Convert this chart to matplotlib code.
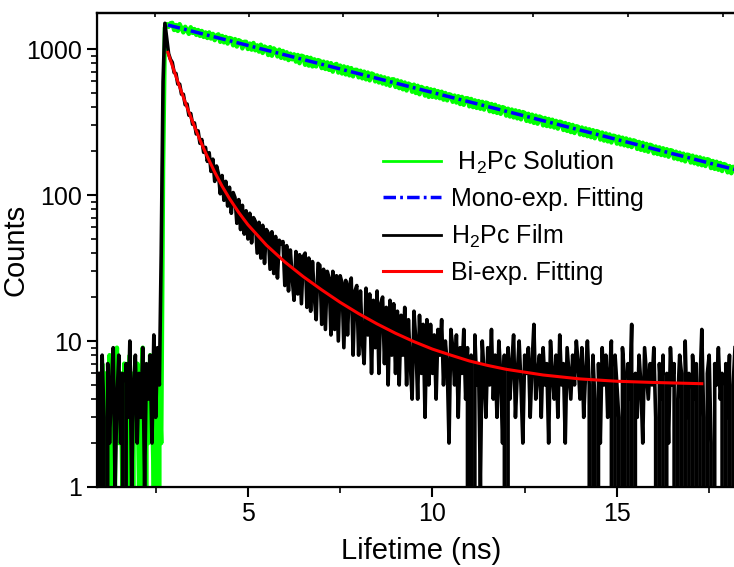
import numpy as np
import matplotlib.pyplot as plt

plt.rcParams['font.family'] = ['Liberation Sans', 'DejaVu Sans']
plt.rcParams['mathtext.default'] = 'regular'

# ---------------- data ----------------
# channel times: 0.95 ns .. 18.20 ns, 0.05 ns per channel
t_first = 0.95
t_step = 0.05

# H2Pc solution (green)
solution_counts = [
    5, 0, 7, 2, 6, 1, 8, 3, 0, 5, 9, 2, 6, 1, 7, 4, 2, 8, 0, 6,
    3, 7, 1, 5, 9, 0, 6, 2, 8, 4, 1, 7, 0, 5, 2, 150, 1400, 1480, 1420, 1500,
    1510, 1350, 1460, 1330, 1480, 1390, 1300, 1420, 1350, 1270, 1410, 1290, 1370, 1250, 1350, 1230, 1330, 1210, 1300, 1190,
    1300, 1180, 1270, 1150, 1240, 1260, 1120, 1230, 1110, 1210, 1090, 1190, 1180, 1060, 1170, 1040, 1150, 1130, 1010, 1120,
    1120, 1000, 1090, 990, 1100, 980, 1060, 960, 1070, 940, 1040, 1020, 910, 1030, 900, 1010, 980, 890, 990, 870,
    970, 860, 950, 840, 930, 850, 920, 820, 910, 800, 900, 890, 780, 880, 770, 870, 760, 850, 760, 840,
    830, 740, 820, 730, 810, 720, 800, 700, 780, 790, 690, 770, 680, 760, 670, 750, 660, 740, 650, 720,
    720, 640, 710, 630, 700, 620, 690, 610, 680, 670, 600, 660, 590, 650, 580, 640, 570, 630, 560, 620,
    620, 550, 610, 540, 600, 530, 590, 520, 580, 570, 510, 570, 500, 560, 490, 550, 540, 480, 540, 470,
    530, 470, 525, 465, 515, 460, 510, 450, 500, 445, 490, 485, 435, 480, 430, 475, 420, 470, 415, 460,
    460, 405, 455, 400, 445, 395, 440, 390, 435, 385, 430, 425, 375, 420, 370, 415, 365, 405, 360, 400,
    395, 350, 390, 345, 385, 340, 380, 335, 375, 330, 370, 365, 322, 360, 318, 355, 312, 350, 308, 345,
    340, 300, 337, 297, 332, 294, 328, 290, 322, 285, 318, 315, 279, 311, 275, 306, 270, 302, 266, 296,
    293, 260, 290, 257, 286, 253, 282, 249, 278, 245, 274, 271, 240, 268, 236, 264, 233, 260, 229, 255,
    253, 225, 251, 222, 247, 219, 244, 216, 240, 213, 237, 234, 207, 231, 204, 228, 201, 224, 198, 221,
    218, 193, 215, 191, 212, 188, 209, 186, 206, 183, 203, 201, 178, 198, 176, 195, 173, 192, 170, 189,
    188, 167, 186, 165, 183, 162, 181, 160, 178, 158, 176, 174, 153, 171, 151, 169, 149, 166, 146, 163,
    161, 143, 158, 141, 156, 147,
]

# H2Pc film (black)
film_counts = [
    6, 1, 8, 3, 0, 7, 2, 5, 9, 1, 4, 8, 2, 6, 0, 7, 3, 10, 1, 5,
    8, 2, 6, 3, 9, 1, 7, 4, 8, 2, 11, 3, 9, 5, 40, 600, 1500, 1180, 930, 850,
    810, 690, 680, 575, 575, 490, 490, 415, 420, 352, 362, 305, 312, 262, 275, 226, 240, 196, 212, 170,
    195, 145, 176, 124, 158, 140, 102, 136, 92, 124, 84, 113, 75, 104, 96, 64, 93, 58, 85, 54,
    78, 50, 75, 47, 70, 66, 40, 65, 37, 62, 34, 58, 55, 31, 56, 29, 52, 27, 49, 46,
    48, 24, 45, 22, 42, 27, 19, 41, 21, 39, 18, 38, 40, 17, 37, 16, 35, 20, 14, 34,
    33, 13, 31, 12, 30, 27, 11, 30, 12, 28, 10, 28, 25, 9, 26, 11, 24, 27, 8, 22,
    24, 8, 22, 10, 7, 23, 11, 21, 6, 19, 9, 22, 6, 18, 20, 7, 17, 5, 19, 8,
    18, 6, 16, 5, 15, 8, 17, 5, 14, 7, 4, 16, 10, 4, 15, 6, 13, 3, 14, 5,
    13, 6, 11, 4, 12, 8, 14, 5, 10, 7, 2, 12, 9, 5, 11, 3, 9, 6, 12, 4,
    9, 0, 8, 0, 11, 5, 7, 1, 10, 6, 3, 9, 5, 12, 4, 8, 3, 10, 6, 2,
    8, 0, 9, 4, 7, 11, 3, 6, 10, 5, 2, 8, 6, 9, 3, 7, 13, 4, 6, 8,
    3, 9, 5, 7, 2, 10, 6, 4, 8, 3, 11, 5, 7, 2, 9, 6, 4, 8, 5, 10,
    7, 4, 9, 3, 6, 10, 5, 0, 8, 4, 0, 7, 2, 9, 5, 8, 3, 6, 10, 0,
    8, 5, 3, 0, 9, 6, 0, 7, 4, 13, 0, 6, 3, 8, 5, 2, 9, 6, 4, 7,
    5, 9, 3, 0, 7, 4, 8, 0, 6, 2, 9, 5, 7, 0, 4, 8, 6, 0, 10, 3,
    6, 0, 8, 4, 7, 0, 5, 12, 3, 0, 6, 8, 2, 0, 7, 5, 9, 4, 6, 0,
    7, 3, 8, 0, 5, 9,
]

# mono-exponential fit of the solution (straight line on log axis)
mono_t = [2.83, 18.4]
mono_y = [1460, 145]

# bi-exponential fit of the film
bi_t = [2.83, 2.9, 3.0, 3.1, 3.2, 3.35, 3.5, 3.7, 3.9, 4.1, 4.3, 4.5, 4.75, 5.0,
        5.5, 6.0, 6.5, 7.0, 7.5, 8.0, 8.5, 9.0, 9.5, 10, 10.5, 11, 11.5, 12,
        13, 14, 15, 16, 17.3]
bi_y = [948, 839, 707, 598, 507, 399, 318, 238, 183, 143.5, 115, 94.6, 76, 62.6,
        45.4, 34.8, 27.6, 22.4, 18.4, 15.4, 13.1, 11.3, 9.9, 8.8, 8.0, 7.3, 6.8, 6.4,
        5.85, 5.5, 5.3, 5.2, 5.1]

time_sol = np.round(t_first + t_step * np.arange(len(solution_counts)), 2)
time_film = np.round(t_first + t_step * np.arange(len(film_counts)), 2)

# ---------------- plot ----------------
fig = plt.figure(figsize=(7.34, 5.67), dpi=100)
# right frame sits just outside the picture, as in the original crop
ax = fig.add_axes([97 / 734, 80 / 567, 648 / 734, 474 / 567])

ax.plot(time_sol, solution_counts, color='#00ff00', lw=3.2, label=' H$_2$Pc Solution')
ax.plot(mono_t, mono_y, color='#0000ff', lw=2.5, dashes=(3.6, 1.2, 0.8, 1.2), label='Mono-exp. Fitting')
ax.plot(time_film, film_counts, color='black', lw=2.6, label='H$_2$Pc Film')
ax.plot(bi_t, bi_y, color='#ff0000', lw=2.2, label='Bi-exp. Fitting')

ax.set_yscale('log', nonpositive='clip')
ax.set_xlim(0.91, 0.91 + 648 / 36.9)
ax.set_ylim(1, 1765)

ax.set_xticks([5, 10, 15])
ax.set_xticks([2.5, 7.5, 12.5, 17.5], minor=True)
ax.set_yticks([1, 10, 100, 1000])
ax.set_yticklabels(['1', '10', '100', '1000'])

for s in ax.spines.values():
    s.set_linewidth(1.6)
ax.tick_params(which='major', direction='out', length=7, width=1.5, labelsize=18, pad=4,
               top=False, right=False)
ax.tick_params(which='minor', direction='out', length=4, width=1.2, top=False, right=False)

# small inner ticks on the top frame
top = ax.twiny()
top.set_xlim(ax.get_xlim())
top.set_xticks([2.48, 5.03, 7.57, 10.15, 12.72, 15.3, 17.87])
top.tick_params(direction='in', length=3, width=1.2, labeltop=False)
top.spines['top'].set_linewidth(1.6)

ax.set_xlabel('Lifetime (ns)', fontsize=21, labelpad=8)
ax.set_ylabel('Counts', fontsize=21)
ax.yaxis.set_label_coords(-0.104, 0.5)

leg = ax.legend(loc='upper left', bbox_to_anchor=(0.426, 0.735), frameon=False, fontsize=18,
                handlelength=2.3, handletextpad=0.4, labelspacing=0.45, borderaxespad=0)
for h, w in zip(leg.legend_handles, [2.0, 2.5, 2.0, 2.2]):
    h.set_linewidth(w)

fig.savefig('out.png', dpi=100)
